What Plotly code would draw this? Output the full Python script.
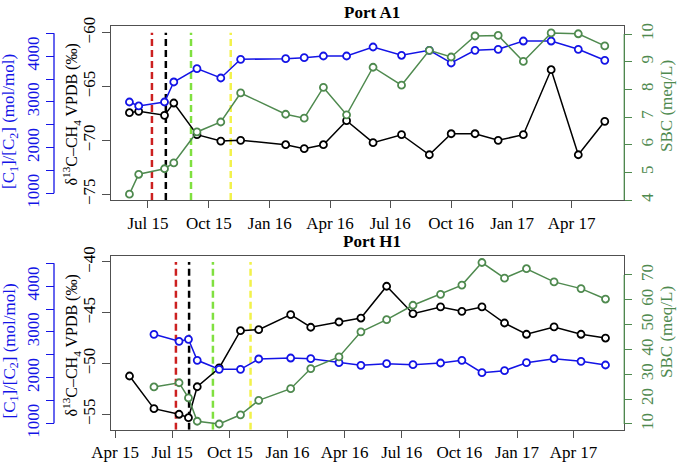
import plotly.graph_objects as go

# ---------------- data ----------------
A_dates = ["2015-06-03", "2015-06-17", "2015-07-26", "2015-08-09", "2015-09-13", "2015-10-19",
           "2015-11-18", "2016-01-25", "2016-02-22", "2016-03-22", "2016-04-26", "2016-06-05",
           "2016-07-18", "2016-08-29", "2016-10-01", "2016-11-06", "2016-12-11", "2017-01-18",
           "2017-03-01", "2017-04-11", "2017-05-21"]
A_ratio = [2997, 2910, 2997, 3435, 3726, 3522, 3931, 3944, 3966, 4003, 4003, 4200,
           4019, 4128, 3850, 4128, 4150, 4331, 4331, 4150, 3909]
A_d13c = [-67.43, -67.30, -67.67, -66.53, -69.47, -70.06, -69.99, -70.40, -70.77, -70.40, -68.17,
          -70.21, -69.47, -71.33, -69.38, -69.38, -69.99, -69.47, -63.44, -71.33, -68.23]
A_sbc = [4.21, 4.93, 5.13, 5.34, 6.46, 6.82, 7.87, 7.10, 6.96, 8.07, 7.08, 8.80,
         8.15, 9.41, 9.17, 9.93, 9.95, 9.01, 10.04, 10.01, 9.57]

H_dates_d13c = ["2015-04-24", "2015-06-02", "2015-07-12", "2015-07-27", "2015-08-10", "2015-09-14",
                "2015-10-18", "2015-11-16", "2016-01-06", "2016-02-07", "2016-03-23", "2016-04-27",
                "2016-06-07", "2016-07-19", "2016-09-01", "2016-10-05", "2016-11-06", "2016-12-12",
                "2017-01-16", "2017-03-01", "2017-04-13", "2017-05-22"]
H_dates = H_dates_d13c[1:]
H_ratio = [2947, 2794, 2837, 2378, 2181, 2181, 2407, 2428, 2413, 2326, 2269, 2304,
           2282, 2319, 2378, 2107, 2151, 2326, 2413, 2356, 2275]
H_d13c = [-51.23, -54.45, -55.00, -55.34, -52.29, -50.44, -46.77, -46.67, -45.19, -46.43, -45.91,
          -45.52, -42.39, -45.09, -44.43, -44.86, -44.43, -46.01, -47.12, -46.40, -47.12, -47.49]
H_sbc = [24.9, 26.6, 20.5, 11.1, 10.0, 13.7, 19.5, 24.2, 32.3, 37.0, 47.1, 52.0,
         57.8, 62.2, 65.9, 75.0, 68.7, 72.5, 67.2, 64.5, 60.3]

event_dates = ["2015-07-07", "2015-07-28", "2015-09-04", "2015-11-03"]
event_colors = ["#cc2020", "#000000", "#80e040", "#f2f24a"]

ratio_major = [1000, 2000, 3000, 4000]
ratio_minor = [1500, 2500, 3500, 4500]

panel_titles = ["Port A1", "Port H1"]
title_ratio = "[C<sub>1</sub>]/[C<sub>2</sub>] (mol/mol)"
title_d13c = "δ<sup>13</sup>C–CH<sub>4</sub> VPDB (‰)"
title_sbc = "SBC (meq/L)"

# ---------------- styling ----------------
W, H = 677, 462
FONT = "Liberation Serif"
BLUE = "#1414e6"
BLACK = "#000000"
GREEN = "#4f8a4f"
BOX = "#505050"

def fx(p):
    return p / W

def fy(p):
    return 1 - p / H

xdom = [fx(110.7), fx(624.3)]
panels = [
    dict(ydom=[fy(200), fy(26.3)], xr=["2015-05-05 17:00", "2017-06-19 12:00"],
         yr_d=[-75.53, -59.41], yr_r=[853, 4653], yr_s=[4.0, 10.28],
         d_ticks=[-75, -70, -65, -60], s_ticks=[4, 5, 6, 7, 8, 9, 10],
         dates=A_dates, ddates=A_dates, ratio=A_ratio, d13c=A_d13c, sbc=A_sbc,
         title_y=12, ttl_r=122, ttl_d=115, ttl_s=106, ev_top=-60),
    dict(ydom=[fy(429.7), fy(256.3)], xr=["2015-03-25", "2017-06-21"],
         yr_d=[-56.52, -39.44], yr_r=[860, 4653], yr_s=[7.7, 77.5],
         d_ticks=[-55, -50, -45, -40], s_ticks=[10, 20, 30, 40, 50, 60, 70],
         dates=H_dates, ddates=H_dates_d13c, ratio=H_ratio, d13c=H_d13c, sbc=H_sbc,
         title_y=241.7, ttl_r=351.5, ttl_d=346, ttl_s=332, ev_top=-40),
]

fig = go.Figure()
layout = dict(width=W, height=H, margin=dict(l=0, r=0, t=0, b=0),
              paper_bgcolor="white", plot_bgcolor="white", showlegend=False,
              font=dict(family=FONT, size=17, color="black"))
shapes = []
annotations = []

tickfont = lambda c: dict(family=FONT, size=17, color=c)

for i, p in enumerate(panels):
    xa = "xaxis" if i == 0 else "xaxis2"
    xr = "x" if i == 0 else "x2"
    yd, yr_, ys = 3 * i + 1, 3 * i + 2, 3 * i + 3
    ynm = lambda n: "yaxis" if n == 1 else "yaxis%d" % n
    yref = lambda n: "y" if n == 1 else "y%d" % n

    layout[xa] = dict(domain=xdom, anchor=yref(yd), type="date", range=p["xr"],
                      tick0="2015-01-01", dtick="M3", tickformat="%b %y",
                      ticks="outside", ticklen=7, tickcolor=BOX, showgrid=False, zeroline=False,
                      showline=True, mirror=True, linecolor=BOX, linewidth=1.2,
                      tickfont=tickfont(BLACK), automargin=False)
    layout[ynm(yd)] = dict(domain=p["ydom"], anchor=xr, range=p["yr_d"], tickvals=p["d_ticks"],
                           ticks="outside", ticklen=8, tickcolor=BOX, showgrid=False, zeroline=False,
                           showline=True, mirror=True, linecolor=BOX, linewidth=1.2,
                           tickangle=-90, tickfont=tickfont(BLACK), automargin=False)
    layout[ynm(yr_)] = dict(domain=p["ydom"], overlaying=yref(yd), anchor="free", position=fx(54),
                            side="left", range=p["yr_r"], tickvals=ratio_major,
                            ticks="outside", ticklen=8, tickcolor=BLUE, showgrid=False, zeroline=False,
                            minor=dict(tickvals=ratio_minor, ticks="outside", ticklen=8, tickcolor=BLUE),
                            showline=False, tickangle=-90, tickfont=tickfont(BLUE), automargin=False)
    layout[ynm(ys)] = dict(domain=p["ydom"], overlaying=yref(yd), anchor=xr, side="right",
                           range=p["yr_s"], tickvals=p["s_ticks"],
                           ticks="outside", ticklen=7, tickcolor=GREEN, showgrid=False, zeroline=False,
                           showline=False, tickangle=-90, tickfont=tickfont(GREEN), automargin=False)

    # axis lines for partial-length axes
    shapes.append(dict(type="line", xref="paper", yref=yref(yr_), x0=fx(54), x1=fx(54),
                       y0=ratio_major[0], y1=ratio_minor[-1], line=dict(color=BLUE, width=1.3)))
    shapes.append(dict(type="line", xref="paper", yref=yref(ys), x0=fx(624.3), x1=fx(624.3),
                       y0=p["s_ticks"][0], y1=p["s_ticks"][-1], line=dict(color=GREEN, width=1.3),
                       layer="above"))
    # event lines
    for d, c in zip(event_dates, event_colors):
        shapes.append(dict(type="line", xref=xr, yref=yref(yd), x0=d, x1=d,
                           y0=p["yr_d"][0], y1=p["ev_top"],
                           line=dict(color=c, width=2.5, dash="7px,4px"), layer="below"))

    def series(x, y, yn, color):
        fig.add_trace(go.Scatter(x=x, y=y, xaxis=xr, yaxis=yref(yn), mode="lines+markers",
                                 line=dict(color=color, width=1.5),
                                 marker=dict(symbol="circle", size=7, color="white",
                                             line=dict(color=color, width=1.8)),
                                 hoverinfo="skip"))

    series(p["dates"], p["sbc"], ys, GREEN)
    series(p["ddates"], p["d13c"], yd, BLACK)
    series(p["dates"], p["ratio"], yr_, BLUE)

    annotations += [
        dict(text="<b>%s</b>" % panel_titles[i], xref="paper", yref="paper", x=fx(372), y=fy(p["title_y"]),
             xanchor="center", yanchor="middle", showarrow=False, font=dict(family=FONT, size=17, color=BLACK)),
        dict(text=title_ratio, xref="paper", yref="paper", x=fx(10), y=fy(p["ttl_r"]), textangle=-90,
             xanchor="center", yanchor="middle", showarrow=False, font=dict(family=FONT, size=17, color=BLUE)),
        dict(text=title_d13c, xref="paper", yref="paper", x=fx(71.5), y=fy(p["ttl_d"]), textangle=-90,
             xanchor="center", yanchor="middle", showarrow=False, font=dict(family=FONT, size=16, color=BLACK)),
        dict(text=title_sbc, xref="paper", yref="paper", x=fx(666), y=fy(p["ttl_s"]), textangle=-90,
             xanchor="center", yanchor="middle", showarrow=False, font=dict(family=FONT, size=17, color=GREEN)),
    ]

layout["shapes"] = shapes
layout["annotations"] = annotations
fig.update_layout(**layout)
fig.write_html("out.html", config={"displayModeBar": False},
               post_script="document.body.style.margin='0px';document.body.style.overflow='hidden';")
